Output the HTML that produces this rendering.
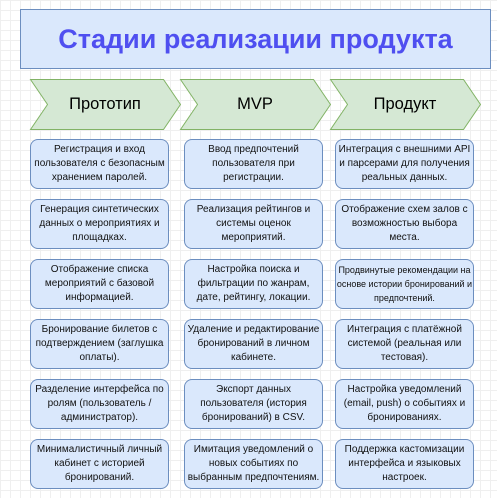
<!DOCTYPE html>
<html><head><meta charset="utf-8"><style>
body{margin:0;width:497px;height:498px;overflow:hidden;background:#fff;
background-image:linear-gradient(#efefef 1px,transparent 1px),linear-gradient(90deg,#efefef 1px,transparent 1px);
background-size:10px 10px;background-position:0 0;font-family:"Liberation Sans",sans-serif;position:relative}
.t{position:absolute;left:20px;top:9px;width:469px;height:58px;background:#dae8fc;border:1px solid #6c8ebf;
display:flex;align-items:center;justify-content:center;font-weight:bold;font-size:27px;color:#4f4ff0}
.c{position:absolute;top:79px;width:150px;height:51px}
.c span{position:absolute;left:0;right:0;top:0;height:51px;display:flex;align-items:center;justify-content:center;font-size:16.5px;color:#000}
.b{position:absolute;width:137px;height:48px;background:#dae8fc;border:1px solid #6c8ebf;border-radius:8px;
display:flex;align-items:center;justify-content:center;text-align:center;font-size:10px;line-height:14px;color:#111}
</style></head><body>
<div class="t">Стадии реализации продукта</div>
<svg style="position:absolute;left:0;top:0" width="497" height="498">
<g fill="#d5e8d4" stroke="#82b366" stroke-width="1">
<polygon points="30.5,79.5 163.5,79.5 180.5,104.5 163.5,129.5 30.5,129.5 47.5,104.5"/>
<polygon points="180.5,79.5 313.5,79.5 330.5,104.5 313.5,129.5 180.5,129.5 197.5,104.5"/>
<polygon points="330.5,79.5 463.5,79.5 480.5,104.5 463.5,129.5 330.5,129.5 347.5,104.5"/>
</g></svg>
<div class="c" style="left:30px"><span>Прототип</span></div>
<div class="c" style="left:180px"><span>MVP</span></div>
<div class="c" style="left:330px"><span>Продукт</span></div>

<div class="b" style="left:30px;top:139px">Регистрация и вход<br>пользователя с безопасным<br>хранением паролей.</div>
<div class="b" style="left:184px;top:139px">Ввод предпочтений<br>пользователя при<br>регистрации.</div>
<div class="b" style="left:335px;top:139px">Интеграция с внешними API<br>и парсерами для получения<br>реальных данных.</div>

<div class="b" style="left:30px;top:199px">Генерация синтетических<br>данных о мероприятиях и<br>площадках.</div>
<div class="b" style="left:184px;top:199px">Реализация рейтингов и<br>системы оценок<br>мероприятий.</div>
<div class="b" style="left:335px;top:199px">Отображение схем залов с<br>возможностью выбора<br>места.</div>

<div class="b" style="left:30px;top:259px">Отображение списка<br>мероприятий с базовой<br>информацией.</div>
<div class="b" style="left:184px;top:259px">Настройка поиска и<br>фильтрации по жанрам,<br>дате, рейтингу, локации.</div>
<div class="b" style="left:335px;top:259px;font-size:9px">Продвинутые рекомендации на<br>основе истории бронирований и<br>предпочтений.</div>

<div class="b" style="left:30px;top:319px">Бронирование билетов с<br>подтверждением (заглушка<br>оплаты).</div>
<div class="b" style="left:184px;top:319px">Удаление и редактирование<br>бронирований в личном<br>кабинете.</div>
<div class="b" style="left:335px;top:319px">Интеграция с платёжной<br>системой (реальная или<br>тестовая).</div>

<div class="b" style="left:30px;top:379px">Разделение интерфейса по<br>ролям (пользователь /<br>администратор).</div>
<div class="b" style="left:184px;top:379px">Экспорт данных<br>пользователя (история<br>бронирований) в CSV.</div>
<div class="b" style="left:335px;top:379px">Настройка уведомлений<br>(email, push) о событиях и<br>бронированиях.</div>

<div class="b" style="left:30px;top:439px">Минималистичный личный<br>кабинет с историей<br>бронирований.</div>
<div class="b" style="left:184px;top:439px">Имитация уведомлений о<br>новых событиях по<br>выбранным предпочтениям.</div>
<div class="b" style="left:335px;top:439px">Поддержка кастомизации<br>интерфейса и языковых<br>настроек.</div>
</body></html>
